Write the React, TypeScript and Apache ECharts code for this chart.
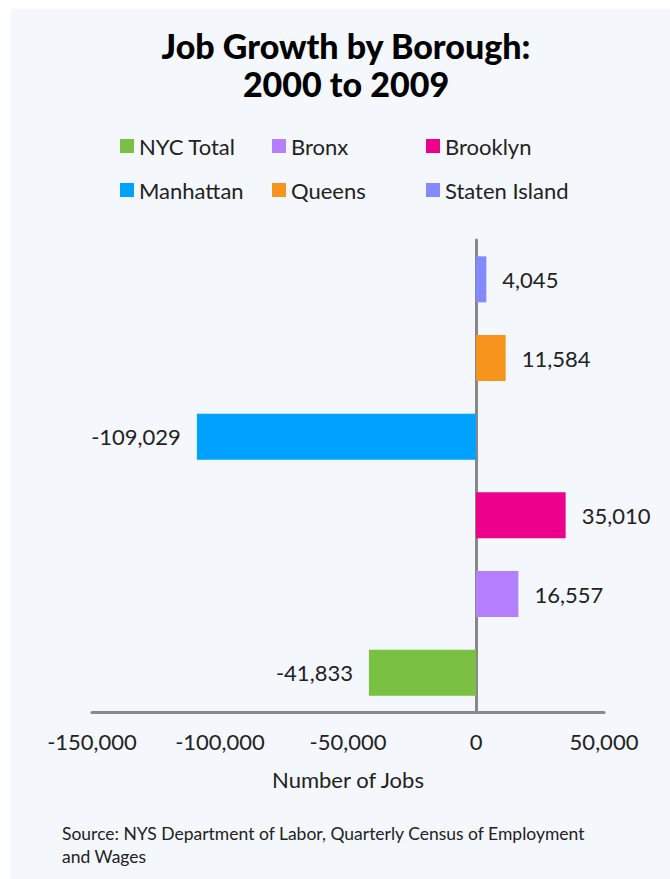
import React, { useEffect, useRef } from "react";
import * as echarts from "echarts";

const titleLines = ["Job Growth by Borough:", "2000 to 2009"];
const categories = ["NYC Total", "Bronx", "Brooklyn", "Manhattan", "Queens", "Staten Island"];
const values = [-41833, 16557, 35010, -109029, 11584, 4045];
const colors = ["#7AC143", "#B580FF", "#EC008C", "#00A2FF", "#F7941D", "#8589FF"];
const xTicks = { min: -150000, max: 50000, interval: 50000 };
const axisName = "Number of Jobs";
const sourceLines = ["Source: NYS Department of Labor, Quarterly Census of Employment", "and Wages"];
// legend layout: [left, top] per category index
const legendPos: [number, number][] = [
  [115, 130], [267, 130], [421, 130],
  [115, 174], [267, 174], [421, 174],
];

const FONT = "Lato";
const fmt = (v: number) => v.toLocaleString("en-US");

export default function App() {
  const ref = useRef<HTMLDivElement>(null);
  useEffect(() => {
    if (!ref.current) return;
    const chart = echarts.init(ref.current, null, { renderer: "svg" });
    const series = categories.map((name, i) => ({
      name,
      type: "bar",
      stack: "all",
      barWidth: 46,
      itemStyle: { color: colors[i] },
      label: {
        show: true,
        position: values[i] < 0 ? "left" : "right",
        distance: 16,
        formatter: (p: any) => fmt(p.value),
        fontFamily: FONT,
        fontSize: 22,
        color: "#222",
      },
      data: categories.map((_, j) => (j === i ? values[i] : "-")),
    }));
    const legends = categories.map((name, i) => ({
      data: [name],
      left: legendPos[i][0],
      top: legendPos[i][1],
      icon: "rect",
      itemWidth: 14,
      itemHeight: 14,
      itemGap: 0,
      textStyle: { fontFamily: FONT, fontSize: 22, color: "#222" },
      selectedMode: false,
    }));
    chart.setOption({
      animation: false,
      backgroundColor: "#ffffff",
      graphic: [
        {
          type: "rect",
          left: 11,
          top: 9,
          shape: { width: 659, height: 870 },
          style: { fill: "#F4F7FB" },
          z: -10,
          silent: true,
        },
        {
          type: "text",
          left: 62,
          top: 822,
          style: {
            text: sourceLines.join("\n"),
            fontFamily: FONT,
            fontSize: 17.5,
            lineHeight: 23,
            fill: "#222",
          },
        },
      ],
      title: {
        text: titleLines.join("\n"),
        left: 341,
        textAlign: "center",
        top: 21,
        textStyle: {
          fontFamily: FONT,
          fontSize: 34,
          fontWeight: 900,
          lineHeight: 38,
          color: "#000",
        },
      },
      legend: legends,
      grid: { left: 92, right: 66, top: 240, bottom: 167, containLabel: false },
      xAxis: {
        type: "value",
        min: xTicks.min,
        max: xTicks.max,
        interval: xTicks.interval,
        name: axisName,
        nameLocation: "middle",
        nameGap: 56,
        nameTextStyle: { fontFamily: FONT, fontSize: 22, color: "#222" },
        axisLine: { show: true, lineStyle: { color: "#888", width: 3 } },
        axisTick: { show: false },
        splitLine: { show: false },
        axisLabel: {
          fontFamily: FONT,
          fontSize: 22,
          color: "#222",
          margin: 18,
          formatter: (v: number) => fmt(v),
        },
      },
      yAxis: {
        type: "category",
        data: categories,
        axisLine: { show: true, onZero: true, lineStyle: { color: "#888", width: 3 } },
        axisTick: { show: false },
        axisLabel: { show: false },
        splitLine: { show: false },
      },
      series,
    });
    return () => chart.dispose();
  }, []);
  return (
    <div
      ref={ref}
      style={{ position: "absolute", left: 0, top: 0, width: 670, height: 879 }}
    />
  );
}
